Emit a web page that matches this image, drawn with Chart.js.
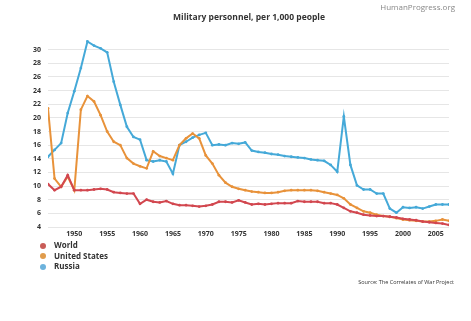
<!DOCTYPE html>
<html>
<head>
<meta charset="utf-8">
<script src="https://cdn.jsdelivr.net/npm/chart.js@4"></script>
<style>
  body { margin: 0; background: #fff; font-family: "Open Sans", sans-serif; }
  #wrap { position: relative; width: 471px; height: 321px; }
  #title { position: absolute; left: 0; width: 498px; top: 11px; text-align: center; font-size: 8.5px; font-weight: bold; color: #333; }
  #brand { position: absolute; right: 16px; top: 1px; font-size: 8px; color: #888; }
  #legend { position: absolute; left: 40px; top: 240px; font-size: 8px; font-weight: bold; color: #333; }
  #legend div { height: 10.5px; line-height: 10.5px; }
  #legend span { display: inline-block; width: 6px; height: 6px; border-radius: 50%; margin-right: 8px; vertical-align: -0.5px; }
  #source { position: absolute; right: 17px; top: 278px; font-size: 5.5px; color: #333; }
</style>
</head>
<body>
<div id="wrap">
  <canvas id="chart" width="471" height="321"></canvas>
  <div id="title">Military personnel, per 1,000 people</div>
  <div id="brand">HumanProgress.org</div>
  <div id="legend"></div>
  <div id="source">Source: The Correlates of War Project</div>
</div>
<script>
const years = [];
for (let y = 1946; y <= 2007; y++) years.push(y);

const world = [10.3, 9.4, 9.9, 11.6, 9.4, 9.4, 9.4, 9.5, 9.6, 9.5,
  9.1, 9.0, 8.9, 8.9, 7.4, 8.0, 7.7, 7.6, 7.8, 7.4,
  7.2, 7.2, 7.1, 7.0, 7.1, 7.3, 7.7, 7.7, 7.6, 7.9,
  7.6, 7.3, 7.4, 7.3, 7.4, 7.5, 7.5, 7.5, 7.8, 7.7,
  7.7, 7.7, 7.5, 7.5, 7.3, 6.8, 6.3, 6.1, 5.8, 5.7,
  5.6, 5.6, 5.5, 5.4, 5.2, 5.1, 5.0, 4.8, 4.7, 4.6,
  4.5, 4.3];
const unitedStates = [21.4, 11.1, 9.9, 11.4, 9.4, 21.2, 23.2, 22.4, 20.4, 18.0,
  16.5, 16.0, 14.1, 13.3, 12.9, 12.6, 15.1, 14.4, 14.1, 13.8,
  16.0, 17.0, 17.7, 17.0, 14.5, 13.3, 11.6, 10.5, 9.9, 9.6,
  9.4, 9.2, 9.1, 9.0, 9.0, 9.1, 9.3, 9.4, 9.4, 9.4,
  9.4, 9.3, 9.1, 8.9, 8.7, 8.2, 7.3, 6.8, 6.3, 6.1,
  5.8, 5.6, 5.5, 5.3, 5.1, 5.0, 4.9, 4.8, 4.8, 4.9,
  5.1, 4.9];
const russia = [14.3, 15.3, 16.3, 20.7, 23.9, 27.3, 31.2, 30.6, 30.2, 29.6,
  25.3, 21.9, 18.7, 17.2, 16.8, 13.8, 13.6, 13.8, 13.6, 11.8,
  16.0, 16.5, 17.1, 17.5, 17.8, 16.0, 16.1, 16.0, 16.3, 16.2,
  16.4, 15.2, 15.0, 14.9, 14.7, 14.6, 14.4, 14.3, 14.2, 14.1,
  13.9, 13.8, 13.7, 13.1, 12.1, 20.2, 13.1, 10.1, 9.5, 9.5,
  8.9, 8.9, 6.7, 6.1, 6.9, 6.8, 6.9, 6.7, 7.0, 7.3,
  7.3, 7.3];

const yTicks = [4, 6, 8, 10, 12, 14, 16, 18, 20, 22, 24, 26, 28, 30];
const xTicks = [1950, 1955, 1960, 1965, 1970, 1975, 1980, 1985, 1990, 1995, 2000, 2005];

const seriesNames = ['World', 'United States', 'Russia'];
const lineColors = ['#d2474f', '#e8923a', '#45a9d8'];
const dotColors = ['#c95d58', '#e09c4c', '#6cb2dc'];

const legend = document.getElementById('legend');
seriesNames.forEach((name, i) => {
  const row = document.createElement('div');
  row.innerHTML = `<span style="background:${dotColors[i]}"></span>${name}`;
  legend.appendChild(row);
});

function toPoints(vals) {
  return vals.map((v, i) => ({ x: years[i], y: v }));
}

const allSeries = [world, unitedStates, russia];

new Chart(document.getElementById('chart'), {
  type: 'line',
  data: {
    datasets: allSeries.map((vals, i) => ({
      label: seriesNames[i],
      data: toPoints(vals),
      borderColor: lineColors[i],
      backgroundColor: lineColors[i],
      borderWidth: 2,
      pointRadius: 1.4,
      pointBorderWidth: 0,
      tension: 0
    }))
  },
  options: {
    responsive: false,
    animation: false,
    layout: { padding: { top: 36, right: 22, left: 0, bottom: 82 } },
    plugins: { legend: { display: false }, tooltip: { enabled: false } },
    scales: {
      x: {
        type: 'linear',
        min: 1946,
        max: 2007,
        afterBuildTicks: s => { s.ticks = xTicks.map(v => ({ value: v })); },
        afterFit: s => { s.height = 12; },
        grid: { display: false, drawTicks: false },
        border: { display: false },
        ticks: {
          color: '#333',
          font: { family: 'Open Sans', size: 7, weight: 'bold' },
          padding: 3,
          maxRotation: 0,
          callback: v => String(v)
        }
      },
      y: {
        min: 4,
        max: 32,
        afterBuildTicks: s => { s.ticks = yTicks.map(v => ({ value: v })); },
        afterFit: s => { s.width = 48; },
        grid: { color: '#e6e6e6', lineWidth: 1, drawTicks: false },
        border: { display: false },
        ticks: {
          color: '#333',
          font: { family: 'Open Sans', size: 7, weight: 'bold' },
          padding: 7
        }
      }
    }
  }
});
</script>
</body>
</html>
